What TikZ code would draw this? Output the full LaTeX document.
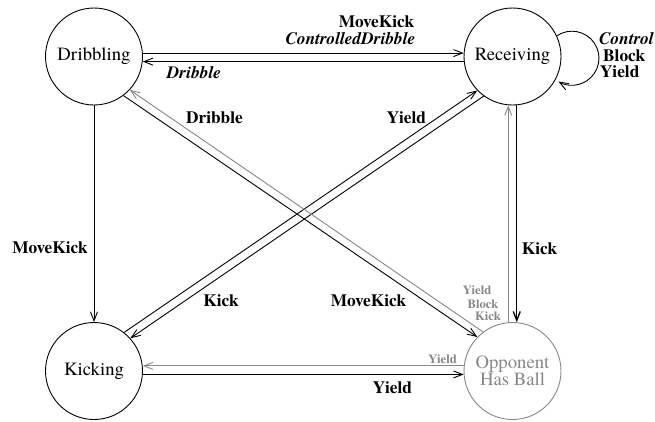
\documentclass[tikz,border=0pt]{standalone}
\usepackage{fontspec}
\setmainfont{texgyretermes}[Extension=.otf,UprightFont=*-regular,BoldFont=*-bold,ItalicFont=*-italic,BoldItalicFont=*-bolditalic]
\usetikzlibrary{arrows.meta,calc}
\definecolor{grey}{RGB}{135,135,135}
\tikzset{
 state/.style={circle,draw,line width=0.9pt,minimum size=97pt,inner sep=0pt,font=\fontsize{18.7}{17}\selectfont,align=center},
 ghost/.style={draw=grey,text=grey},
 edge/.style={line width=0.9pt,-{Straight Barb[length=9pt,width=7pt]}},
 lbl/.style={font=\fontsize{17.3}{17}\selectfont\bfseries,anchor=base,inner sep=0pt},
 ilbl/.style={lbl,font=\fontsize{17.3}{17}\selectfont\bfseries\itshape},
 slbl/.style={font=\fontsize{12.6}{12}\selectfont\bfseries,text=grey,anchor=base,inner sep=0pt},
}
\begin{document}
\begin{tikzpicture}[x=1pt,y=-1pt]
\useasboundingbox (0,0) rectangle (655,421);
\node[state] (D) at (94,56.5) {Dribbling};
\node[state] (R) at (512.5,56.5) {Receiving};
\node[state] (K) at (94,371) {Kicking};
\node[state,ghost] (O) at (512.5,371) {Opponent\\Has Ball};

\draw[edge] (D.4) -- (R.176);
\draw[edge] (R.186) -- (D.-6);
\draw[edge] (D.south) -- (K.north);
\draw[edge] (K.52) -- (R.224);
\draw[edge] (R.234) -- (K.42);
\draw[edge] (D.307) -- (O.136);
\draw[edge,draw=grey] (O.127) -- (D.317);
\draw[edge,draw=grey] (O.95) -- (R.265);
\draw[edge,line width=1.3pt] (R.275) -- (O.85);
\draw[edge,draw=grey] (O.174) -- (K.6);
\draw[edge] (K.-4) -- (O.184);
\draw[edge] (R.25) arc[start angle=124,end angle=-120,radius=27pt];

\node[lbl] (l1) at (376.5,27) {MoveKick};
\node[ilbl] (l2) at (350.5,44) {ControlledDribble};
\node[ilbl] (l3) at (194,78) {Dribble};
\node[ilbl,anchor=base west] (l4) at (599,44) {Control};
\node[lbl,anchor=base west] (l5) at (603,61) {Block};
\node[lbl,anchor=base west] (l6) at (600,77) {Yield};
\node[lbl] (l7) at (406.5,123) {Yield};
\node[lbl] (l8) at (214.5,123) {Dribble};
\node[lbl] (l9) at (50,253) {MoveKick};
\node[lbl] (l10) at (221,306) {Kick};
\node[lbl] (l11) at (368.5,306) {MoveKick};
\node[lbl] (l12) at (539.5,254) {Kick};
\node[slbl] (s1) at (477,294) {Yield};
\node[slbl] (s2) at (483,308) {Block};
\node[slbl] (s3) at (488,320) {Kick};
\node[slbl] (s4) at (442.5,363) {Yield};
\node[lbl] (l13) at (392.5,393) {Yield};
\end{tikzpicture}
\end{document}
